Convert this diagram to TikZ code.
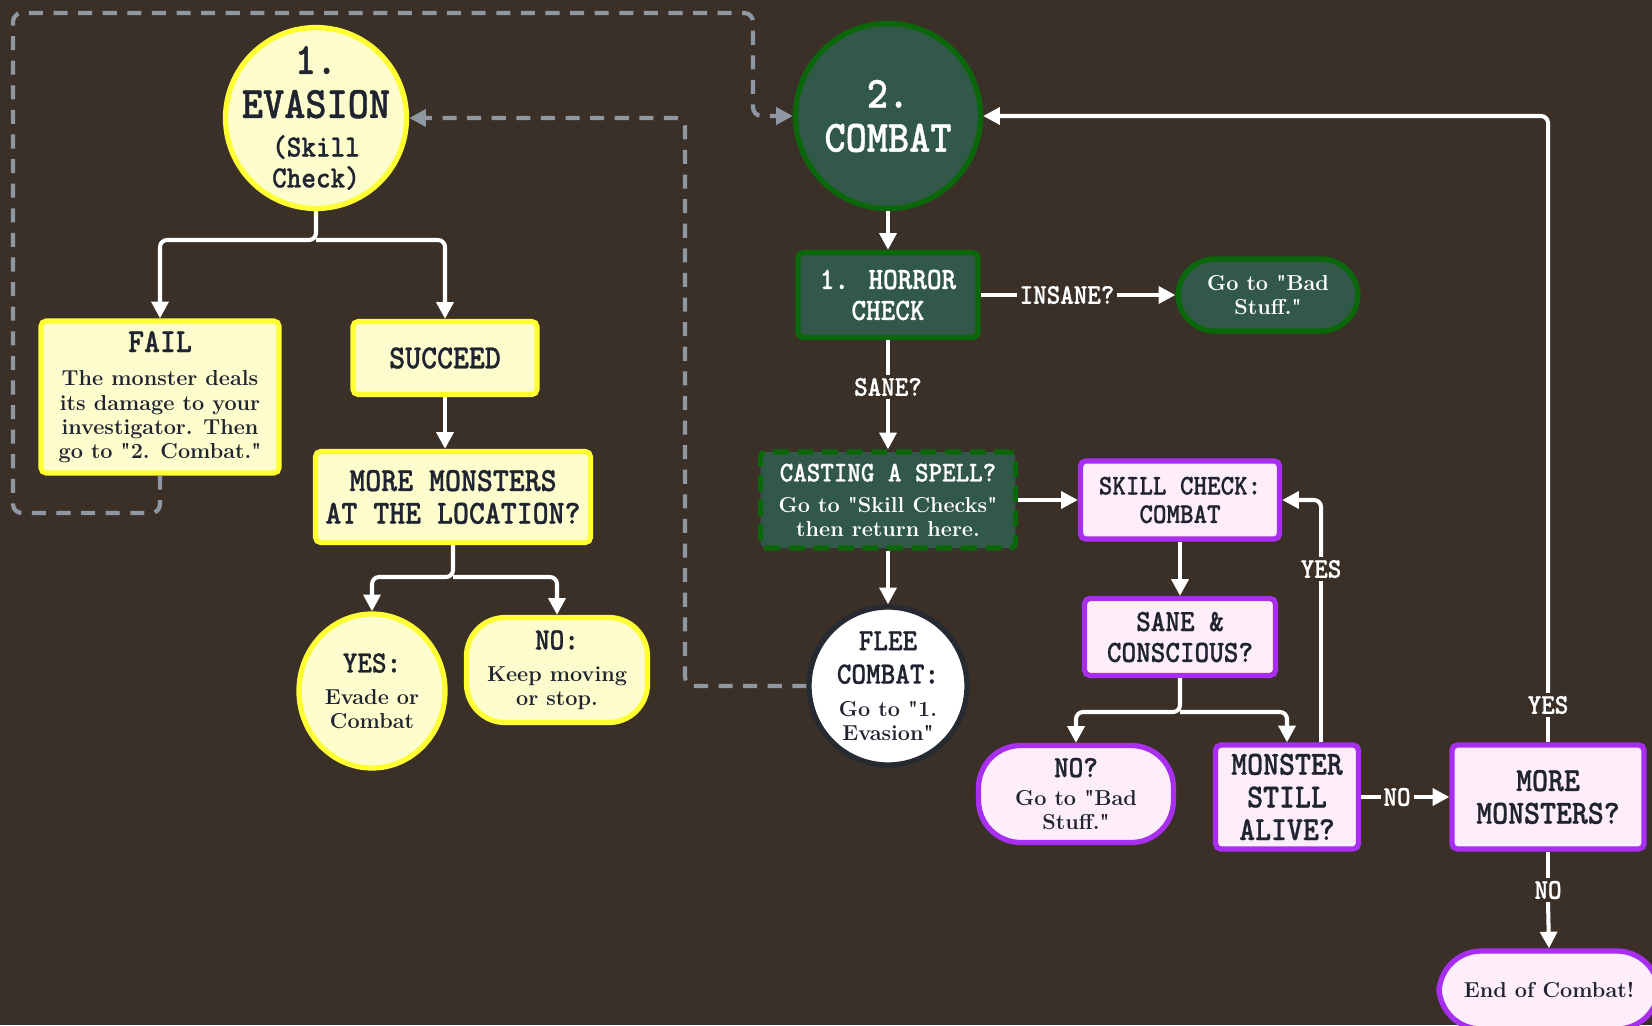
\documentclass[tikz,border=0pt]{standalone}
\usepackage{fontspec}
\usetikzlibrary{arrows.meta,shapes.geometric}

\newfontfamily\typew{lmmonolt10-bold.otf}[FakeStretch=0.9, FakeBold=0.8]
\newfontfamily\bodyrm{lmroman12-bold.otf}

\definecolor{wallbrown}{HTML}{3A3027}
\definecolor{evafill}{HTML}{FCFCCC}
\definecolor{evaedge}{HTML}{FFFF33}
\definecolor{combatfill}{HTML}{325849}
\definecolor{combatedge}{HTML}{0A680A}
\definecolor{checkfill}{HTML}{FDEEFA}
\definecolor{checkedge}{HTML}{A92FF0}
\definecolor{fleeedge}{HTML}{262B32}
\definecolor{inkdark}{HTML}{1F2430}
\definecolor{dashgray}{HTML}{8F97A2}

\newcommand{\twhuge}{\typew\fontsize{25.5}{25}\selectfont}
\newcommand{\twlarge}{\typew\fontsize{19.2}{18.6}\selectfont}
\newcommand{\twnormal}{\typew\fontsize{17.6}{17.6}\selectfont}
\newcommand{\twsmall}{\typew\fontsize{16.3}{16.2}\selectfont}
\newcommand{\rmbody}{\bodyrm\fontsize{12.3}{13.8}\selectfont}

\tikzset{
  stepnode/.style={line width=3pt, align=center, inner sep=0pt, text=inkdark},
  evabox/.style={stepnode, rectangle, rounded corners=3pt, draw=evaedge, fill=evafill},
  evapill/.style={evabox, rounded corners=22pt},
  evaround/.style={stepnode, ellipse, draw=evaedge, fill=evafill},
  combatbox/.style={stepnode, rectangle, rounded corners=3pt, draw=combatedge, fill=combatfill, text=white},
  combatpill/.style={combatbox, rounded corners=21pt},
  combatround/.style={stepnode, circle, draw=combatedge, fill=combatfill, text=white},
  checkbox/.style={stepnode, rectangle, rounded corners=3pt, draw=checkedge, fill=checkfill},
  checkpill/.style={checkbox, rounded corners=24pt},
  fleeround/.style={stepnode, circle, draw=fleeedge, fill=white},
  flowstub/.style={white, line width=2.3pt, rounded corners=4pt},
  flowline/.style={flowstub, -{Triangle[length=9.5pt,width=9.5pt]}},
  dashline/.style={dashgray, line width=2.4pt, rounded corners=5pt, dash pattern=on 8pt off 6pt, -{Triangle[length=9.5pt,width=9.5pt]}},
  edgelabel/.style={text=white, font=\twsmall, inner sep=1.5pt}
}

\begin{document}
\begin{tikzpicture}[x=0.02cm, y=-0.02cm]
  \useasboundingbox (0,0) rectangle (1652,1025);
  \clip (0,0) rectangle (1652,1025);
  \fill[wallbrown] (0,0) rectangle (1652,1025);

  % evasion side
  \node[evaround, inner sep=-11pt, minimum width=3.62cm, minimum height=3.62cm, font=\twnormal] (evasion) at (316,118)
    {{\twhuge 1.}\\[7.4pt]{\twhuge EVASION}\\[4.4pt](Skill\\Check)};
  \node[evabox, minimum width=4.76cm, minimum height=3.04cm, font=\rmbody] (fail) at (160,397)
    {{\twlarge FAIL}\\[5.5pt]The monster deals\\its damage to your\\investigator. Then\\go to "2. Combat."};
  \node[evabox, minimum width=3.68cm, minimum height=1.46cm, font=\twlarge] (succeed) at (445,358) {SUCCEED};
  \node[evabox, minimum width=5.5cm, minimum height=1.82cm, font=\twlarge] (moremon) at (453,497)
    {MORE MONSTERS\\AT THE LOCATION?};
  \node[evaround, minimum width=2.92cm, minimum height=3.08cm, font=\rmbody] (yes1) at (372,691)
    {{\twnormal YES:}\\[4.3pt]Evade or\\Combat};
  \node[evapill, minimum width=3.62cm, minimum height=2.1cm, font=\rmbody] (no1) at (557,670)
    {{\twnormal NO:}\\[4.3pt]Keep moving\\or stop.};

  % combat side
  \node[combatround, minimum size=3.7cm, font=\twhuge] (combat) at (888,116) {2.\\COMBAT};
  \node[combatbox, minimum width=3.6cm, minimum height=1.7cm, font=\twnormal] (horror) at (888,295) {1. HORROR\\CHECK};
  \node[combatpill, minimum width=3.6cm, minimum height=1.44cm, font=\rmbody] (bad1) at (1268,295) {Go to "Bad\\Stuff."};
  \node[combatbox, dash pattern=on 9pt off 5pt, minimum width=5.1cm, minimum height=1.92cm, font=\rmbody] (casting) at (888,500)
    {{\twsmall CASTING A SPELL?}\\[3.6pt]Go to "Skill Checks"\\then return here.};
  \node[fleeround, minimum size=3.16cm, font=\rmbody] (flee) at (888,686)
    {{\twnormal FLEE}\\[5.2pt]{\twnormal COMBAT:}\\[4.8pt]Go to "1.\\Evasion"};
  \node[checkbox, minimum width=3.98cm, minimum height=1.56cm, font=\twsmall] (skill) at (1180,500) {SKILL CHECK:\\COMBAT};
  \node[checkbox, minimum width=3.82cm, minimum height=1.54cm, font=\twnormal] (saneco) at (1180,637) {SANE \&\\CONSCIOUS?};
  \node[checkpill, minimum width=3.9cm, minimum height=1.94cm, font=\rmbody] (bad2) at (1076,794)
    {{\twnormal NO?}\\[2.4pt]Go to "Bad\\Stuff."};
  \node[checkbox, minimum width=2.86cm, minimum height=2.08cm, font=\twlarge] (alive) at (1287,797) {MONSTER\\STILL\\ALIVE?};
  \node[checkbox, minimum width=3.84cm, minimum height=2.08cm, font=\twlarge] (moremon2) at (1548,797) {MORE\\MONSTERS?};
  \node[checkpill, minimum width=4.4cm, minimum height=1.56cm, font=\rmbody] (endc) at (1549,990) {End of Combat!};

  % labels on the lines
  \node[edgelabel] (insane) at (1067,295) {INSANE?};
  \node[edgelabel] (sane) at (888,387) {SANE?};
  \node[edgelabel] (yes2) at (1321,569) {YES};
  \node[edgelabel] (no2) at (1397,797) {NO};
  \node[edgelabel] (yes3) at (1548,705) {YES};
  \node[edgelabel] (no3) at (1548,890) {NO};

  \coordinate (evafork) at (316,240);
  \coordinate (monfork) at (453,577);
  \coordinate (sanefork) at (1180,712);
  \coordinate (dashbl) at (13,513);
  \coordinate (dashtr) at (753,13);
  \coordinate (dashbr) at (685,686);

  \draw[flowline] (evasion.south) -- (evafork) -| (fail.north);
  \draw[flowline] (evafork) -| (succeed.north);
  \draw[flowline] (succeed.south) -- (succeed.south |- moremon.north);
  \draw[flowline] (moremon.south) -- (monfork) -| (yes1.north);
  \draw[flowline] (monfork) -| (no1.north);

  \draw[flowline] (combat.south) -- (horror.north);
  \draw[flowstub] (horror.east) -- (insane.west);
  \draw[flowline] (insane.east) -- (bad1.west);
  \draw[flowstub] (horror.south) -- (sane.north);
  \draw[flowline] (sane.south) -- (casting.north);
  \draw[flowline] (casting.east) -- (skill.west);
  \draw[flowline] (casting.south) -- (flee.north);
  \draw[flowline] (skill.south) -- (saneco.north);
  \draw[flowline] (saneco.south) -- (sanefork) -| (bad2.north);
  \draw[flowline] (sanefork) -| (alive.north);
  \draw[flowstub] (alive.north -| yes2) -- (yes2.south);
  \draw[flowline] (yes2.north) |- (skill.east);
  \draw[flowstub] (alive.east) -- (no2.west);
  \draw[flowline] (no2.east) -- (moremon2.west);
  \draw[flowstub] (moremon2.north) -- (yes3.south);
  \draw[flowline] (yes3.north) |- (combat.east);
  \draw[flowstub] (moremon2.south) -- (no3.north);
  \draw[flowline] (no3.south) -- (endc.north);

  % dashed returns
  \draw[dashline] (fail.south) |- (dashbl) |- (dashtr) |- (combat.west);
  \draw[dashline] (flee.west) -- (dashbr) |- (evasion.east);
\end{tikzpicture}
\end{document}
